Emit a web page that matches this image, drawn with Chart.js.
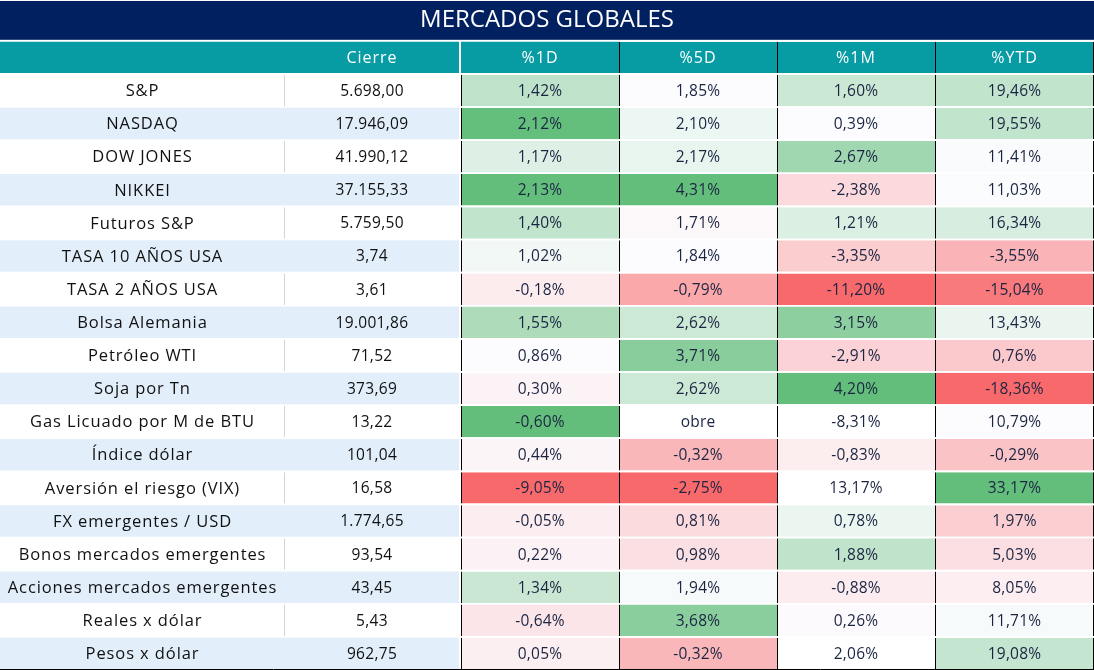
<!DOCTYPE html>
<html>
<head>
<meta charset="utf-8">
<script src="https://cdn.jsdelivr.net/npm/chart.js@4.4.1/dist/chart.umd.min.js"></script>
<style>
    html, body { margin: 0; padding: 0; background: #fff; }
    #wrap { width: 1094px; height: 670px; }
</style>
</head>
<body>
<div id="wrap"><canvas id="marketsTable"></canvas></div>
<script>
var rowLabels = ['S&P', 'NASDAQ', 'DOW JONES', 'NIKKEI', 'Futuros S&P', 'TASA 10 AÑOS USA',
    'TASA 2 AÑOS USA', 'Bolsa Alemania', 'Petróleo WTI', 'Soja por Tn', 'Gas Licuado por M de BTU',
    'Índice dólar', 'Aversión el riesgo (VIX)', 'FX emergentes / USD', 'Bonos mercados emergentes',
    'Acciones mercados emergentes', 'Reales x dólar', 'Pesos x dólar'];
var cierre = [5698.00, 17946.09, 41990.12, 37155.33, 5759.50, 3.74, 3.61, 19001.86, 71.52,
    373.69, 13.22, 101.04, 16.58, 1774.65, 93.54, 43.45, 5.43, 962.75];
var chg1D = [1.42, 2.12, 1.17, 2.13, 1.40, 1.02, -0.18, 1.55, 0.86, 0.30, -0.60, 0.44, -9.05,
    -0.05, 0.22, 1.34, -0.64, 0.05];
var chg5D = [1.85, 2.10, 2.17, 4.31, 1.71, 1.84, -0.79, 2.62, 3.71, 2.62, null, -0.32, -2.75,
    0.81, 0.98, 1.94, 3.68, -0.32];
var chg1M = [1.60, 0.39, 2.67, -2.38, 1.21, -3.35, -11.20, 3.15, -2.91, 4.20, -8.31, -0.83, 13.17,
    0.78, 1.88, -0.88, 0.26, 2.06];
var chgYTD = [19.46, 19.55, 11.41, 11.03, 16.34, -3.55, -15.04, 13.43, 0.76, -18.36, 10.79, -0.29,
    33.17, 1.97, 5.03, 8.05, 11.71, 19.08];
var headers = ['', 'Cierre', '%1D', '%5D', '%1M', '%YTD'];
var missingText = 'obre';

// formato condicional como en la planilla (celdas sin escala / escala forzada)
var noShade = { 4: ['Gas Licuado por M de BTU', 'Aversión el riesgo (VIX)', 'Pesos x dólar'] };
var shadeAs = { 2: { 'Gas Licuado por M de BTU': 2.13 } };

var pctCols = { 2: chg1D, 3: chg5D, 4: chg1M, 5: chgYTD };
var colSpans = [[0, 285], [285, 459], [461, 619], [619, 777], [777, 935], [935, 1094]];
var categories = ['header'].concat(rowLabels);

var FONT = 'Open Sans';
var NAVY = '#002060', TEAL = '#079ca3', ROWBLUE = '#e2effb';
var RED = [248, 105, 107], MID = [252, 252, 255], GREEN = [99, 190, 123];

function fmtNum(v) {
    var parts = v.toFixed(2).split('.');
    return parts[0].replace(/\B(?=(\d{3})+(?!\d))/g, '.') + ',' + parts[1];
}
function fmtPct(v) {
    return v === null ? missingText : v.toFixed(2).replace('.', ',') + '%';
}
function percentile(sorted, p) {
    var pos = (sorted.length - 1) * p, lo = Math.floor(pos), hi = Math.ceil(pos);
    return sorted[lo] + (sorted[hi] - sorted[lo]) * (pos - lo);
}
function mix(a, b, t) {
    return 'rgb(' + a.map(function (v, k) { return Math.round(v + (b[k] - v) * t); }).join(',') + ')';
}
function shadeValue(c, i) {
    var label = rowLabels[i];
    if (noShade[c] && noShade[c].indexOf(label) >= 0) return null;
    if (shadeAs[c] && shadeAs[c][label] !== undefined) return shadeAs[c][label];
    return pctCols[c][i];
}

var scales3 = {};
Object.keys(pctCols).forEach(function (c) {
    var vals = rowLabels.map(function (l, i) { return shadeValue(+c, i); })
        .filter(function (v) { return v !== null; })
        .sort(function (a, b) { return a - b; });
    scales3[c] = { min: vals[0], mid: percentile(vals, 0.5), max: vals[vals.length - 1] };
});

function cellColor(c, r) {
    if (r === 0) return TEAL;
    var i = r - 1;
    if (c < 2) return i % 2 === 1 ? ROWBLUE : '#ffffff';
    var v = shadeValue(c, i);
    if (v === null) return '#ffffff';
    var s = scales3[c];
    if (v <= s.mid) return mix(RED, MID, (v - s.min) / (s.mid - s.min));
    return mix(MID, GREEN, (v - s.mid) / (s.max - s.mid));
}
function cellBorder(c, r) {
    if (c === 0) return (r > 0 && (r - 1) % 2 === 0) ? { right: 1 } : 0;
    if (c === 1) return 0;
    if (r === 0 && c === 2) return 0;
    return c === 5 ? { left: 1, right: 1 } : { left: 1 };
}

var datasets = headers.map(function (h, c) {
    return {
        label: h,
        data: categories.map(function () { return colSpans[c]; }),
        backgroundColor: function (ctx) { return cellColor(c, ctx.dataIndex); },
        borderColor: c === 0 ? '#d4d4d4' : '#000000',
        borderWidth: function (ctx) { return cellBorder(c, ctx.dataIndex); },
        borderSkipped: false
    };
});

var tablePlugin = {
    id: 'tablePlugin',
    beforeDraw: function (chart) {
        var ctx = chart.ctx;
        ctx.save();
        ctx.fillStyle = NAVY;
        ctx.fillRect(0, 1, chart.width, chart.chartArea.top - 2);
        ctx.restore();
    },
    afterDatasetsDraw: function (chart) {
        var ctx = chart.ctx, xs = chart.scales.x, ys = chart.scales.y;
        ctx.save();
        ctx.textAlign = 'center';
        ctx.textBaseline = 'middle';
        categories.forEach(function (cat, r) {
            var py = ys.getPixelForValue(r) + 1;
            headers.forEach(function (h, c) {
                var px = xs.getPixelForValue((colSpans[c][0] + colSpans[c][1]) / 2);
                var txt;
                if (r === 0) {
                    ctx.fillStyle = '#ffffff';
                    ctx.font = '16px "' + FONT + '"';
                    ctx.letterSpacing = '1px';
                    txt = h;
                } else if (c === 0) {
                    ctx.fillStyle = '#111111';
                    ctx.font = '16.5px "' + FONT + '"';
                    ctx.letterSpacing = '0.9px';
                    txt = rowLabels[r - 1];
                } else if (c === 1) {
                    ctx.fillStyle = '#111111';
                    ctx.font = '500 15.5px "' + FONT + '"';
                    ctx.letterSpacing = '0.3px';
                    txt = fmtNum(cierre[r - 1]);
                } else {
                    ctx.fillStyle = '#1b2542';
                    ctx.font = '15.5px "' + FONT + '"';
                    ctx.letterSpacing = '0.2px';
                    txt = fmtPct(pctCols[c][r - 1]);
                }
                ctx.fillText(txt, px, py);
            });
        });
        ctx.letterSpacing = '0px';
        // borde inferior
        ctx.strokeStyle = '#000';
        ctx.lineWidth = 1;
        ctx.beginPath();
        ctx.moveTo(0, chart.chartArea.bottom - 0.5);
        ctx.lineTo(chart.width, chart.chartArea.bottom - 0.5);
        ctx.stroke();
        ctx.restore();
    }
};

new Chart(document.getElementById('marketsTable'), {
    type: 'bar',
    data: { labels: categories, datasets: datasets },
    options: {
        indexAxis: 'y',
        responsive: true,
        maintainAspectRatio: false,
        animation: false,
        layout: { padding: 0 },
        datasets: { bar: { grouped: false, barPercentage: 0.95, categoryPercentage: 1 } },
        scales: {
            x: { type: 'linear', min: 0, max: 1094, display: false },
            y: { type: 'category', display: false }
        },
        plugins: {
            legend: { display: false },
            tooltip: { enabled: false },
            title: {
                display: true,
                text: 'MERCADOS GLOBALES',
                color: '#ffffff',
                font: { family: FONT, size: 24, weight: 'normal' },
                padding: { top: 6, bottom: 6 }
            }
        }
    },
    plugins: [tablePlugin]
});
</script>
</body>
</html>
